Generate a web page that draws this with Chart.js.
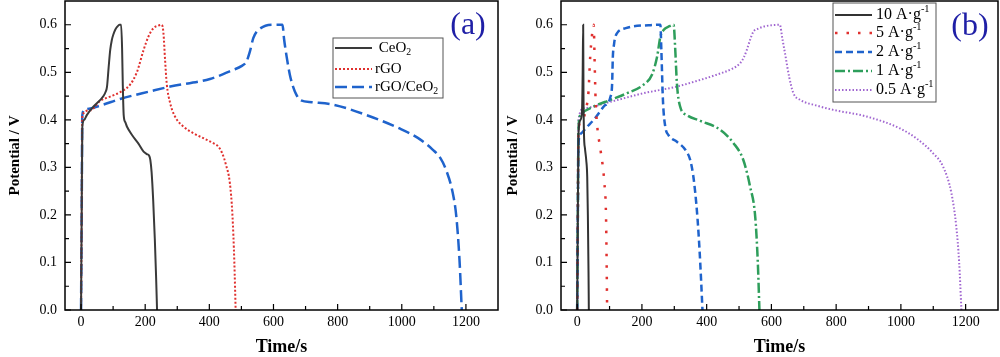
<!DOCTYPE html>
<html><head><meta charset="utf-8">
<script src="https://cdn.jsdelivr.net/npm/chart.js@4.4.0/dist/chart.umd.min.js"></script>
<style>
html,body{margin:0;padding:0;background:#fff;}
#wrap{position:relative;width:1000px;height:357px;overflow:hidden;}
.pane{position:absolute;top:0;width:500px;height:357px;}
canvas{display:block;}
</style></head><body>
<div id="wrap">
<div class="pane" style="left:0"><canvas id="ca" width="500" height="357"></canvas></div>
<div class="pane" style="left:500px"><canvas id="cb" width="500" height="357"></canvas></div>
</div>
<script>
// ---------- tick labels ----------
const xTicks = [0, 200, 400, 600, 800, 1000, 1200];
const xMinorTicks = [100, 300, 500, 700, 900, 1100];
const yTicks = [0.0, 0.1, 0.2, 0.3, 0.4, 0.5, 0.6];
const yMinorTicks = [0.05, 0.15, 0.25, 0.35, 0.45, 0.55];

// ---------- panel (a) ----------
const ceo2T = [0, 2, 4, 10, 18, 39, 60, 70, 76, 81, 86, 91, 96, 101, 107, 113, 120, 125, 128, 130, 133, 138, 143, 159, 179, 195, 205, 212, 216, 220, 225, 230, 234, 237];
const ceo2V = [0, 0.2, 0.385, 0.40, 0.41, 0.428, 0.442, 0.45, 0.458, 0.47, 0.51, 0.547, 0.568, 0.58, 0.59, 0.596, 0.6, 0.6, 0.55, 0.48, 0.41, 0.395, 0.386, 0.368, 0.35, 0.333, 0.328, 0.325, 0.316, 0.29, 0.23, 0.15, 0.07, 0];

const rgoT = [0, 2, 4, 29, 60, 91, 127, 153, 174, 195, 210, 226, 240, 252, 257, 262, 267, 278, 293, 319, 350, 392, 415, 428, 440, 452, 464, 472, 478, 482];
const rgoV = [0, 0.2, 0.41, 0.42, 0.44, 0.449, 0.46, 0.474, 0.5, 0.547, 0.575, 0.593, 0.598, 0.6, 0.582, 0.526, 0.477, 0.435, 0.407, 0.386, 0.372, 0.358, 0.35, 0.344, 0.33, 0.305, 0.267, 0.2, 0.1, 0];

const compT = [0, 2, 4, 12, 60, 122, 216, 278, 402, 474, 500, 516, 527, 537, 548, 558, 575, 600, 628, 633, 641, 651, 661, 672, 682, 720, 786, 890, 993, 1050, 1097, 1120, 1138, 1159, 1170, 1180, 1187];
const compV = [0, 0.2, 0.41, 0.422, 0.43, 0.444, 0.46, 0.47, 0.486, 0.505, 0.513, 0.523, 0.545, 0.572, 0.586, 0.592, 0.598, 0.6, 0.6, 0.57, 0.533, 0.495, 0.47, 0.452, 0.442, 0.437, 0.432, 0.41, 0.382, 0.362, 0.337, 0.32, 0.295, 0.246, 0.197, 0.105, 0];

// ---------- panel (b) ----------
const a10T = [0, 2, 4, 10, 15, 17, 18.5, 19.5, 21, 24, 28, 31, 33, 35, 36];
const a10V = [0, 0.2, 0.37, 0.40, 0.42, 0.5, 0.6, 0.45, 0.37, 0.34, 0.315, 0.28, 0.2, 0.08, 0];

const a5T = [0, 2, 4, 15, 28, 35, 40, 46, 51, 54, 57, 62, 72, 84, 89, 91, 92.5];
const a5V = [0, 0.2, 0.38, 0.40, 0.425, 0.46, 0.53, 0.58, 0.6, 0.52, 0.44, 0.386, 0.337, 0.267, 0.2, 0.1, 0];

const a2T = [0, 2, 4, 10, 30, 51, 82, 103, 108, 110, 114, 118, 125, 133, 150, 175, 220, 257, 260, 265, 272, 282, 308, 334, 349, 358, 365, 372, 378, 383, 387];
const a2V = [0, 0.2, 0.35, 0.37, 0.385, 0.4, 0.428, 0.449, 0.477, 0.53, 0.56, 0.575, 0.584, 0.589, 0.593, 0.597, 0.599, 0.6, 0.547, 0.44, 0.386, 0.368, 0.354, 0.337, 0.316, 0.285, 0.245, 0.19, 0.126, 0.06, 0];

const a1T = [0, 2, 4, 10, 51, 103, 154, 205, 231, 247, 257, 267, 285, 298, 303, 308, 318, 339, 380, 442, 483, 513, 534, 550, 558, 563];
const a1V = [0, 0.2, 0.38, 0.41, 0.428, 0.442, 0.456, 0.474, 0.495, 0.533, 0.575, 0.589, 0.597, 0.6, 0.547, 0.477, 0.428, 0.41, 0.398, 0.379, 0.351, 0.316, 0.26, 0.196, 0.1, 0];

const a05T = [0, 2, 4, 20, 103, 205, 308, 380, 431, 480, 503, 515, 524, 534, 544, 560, 575, 600, 626, 634, 642, 655, 668, 689, 740, 791, 894, 997, 1050, 1099, 1130, 1156, 1171, 1180, 1187];
const a05V = [0, 0.2, 0.40, 0.424, 0.438, 0.456, 0.47, 0.484, 0.495, 0.508, 0.519, 0.532, 0.547, 0.568, 0.585, 0.592, 0.596, 0.599, 0.6, 0.57, 0.54, 0.49, 0.456, 0.442, 0.43, 0.421, 0.407, 0.382, 0.36, 0.33, 0.302, 0.246, 0.176, 0.1, 0];

// ---------- helpers ----------
const FONT = '"Liberation Serif","Times New Roman",serif';
const zip = (t, v) => t.map((x, i) => ({x: x, y: v[i]}));

function ds(label, t, v, color, width, dash, legendParts) {
  return {
    label: label, data: zip(t, v), borderColor: color, backgroundColor: color,
    borderWidth: width, borderDash: dash, pointRadius: 0, fill: false,
    cubicInterpolationMode: 'monotone', borderCapStyle: 'butt',
    legendParts: legendParts
  };
}

function drawRich(ctx, x, y, parts, size) {
  let cx = x;
  ctx.textBaseline = 'middle';
  ctx.textAlign = 'left';
  for (const p of parts) {
    let s = size, dy = 0;
    if (p.sub) { s = size * 0.65; dy = size * 0.3; }
    if (p.sup) { s = size * 0.65; dy = -size * 0.33; }
    ctx.font = s + 'px ' + FONT;
    ctx.fillText(p.t, cx, y + dy);
    cx += ctx.measureText(p.t).width;
  }
}

function decorPlugin(opt) {
  return {
    id: 'decor',
    afterDraw(chart) {
      const ctx = chart.ctx, a = chart.chartArea, x = chart.scales.x, y = chart.scales.y;
      ctx.save();
      ctx.strokeStyle = '#000';
      ctx.lineWidth = 1.2;
      ctx.setLineDash([]);
      ctx.beginPath();
      xTicks.forEach(v => { const p = x.getPixelForValue(v); ctx.moveTo(p, a.bottom); ctx.lineTo(p, a.bottom - 6); });
      xMinorTicks.forEach(v => { const p = x.getPixelForValue(v); ctx.moveTo(p, a.bottom); ctx.lineTo(p, a.bottom - 4); });
      yTicks.forEach(v => { const p = y.getPixelForValue(v); ctx.moveTo(a.left, p); ctx.lineTo(a.left + 6, p); });
      yMinorTicks.forEach(v => { const p = y.getPixelForValue(v); ctx.moveTo(a.left, p); ctx.lineTo(a.left + 4, p); });
      ctx.stroke();
      ctx.lineWidth = 1.5;
      ctx.strokeRect(a.left, a.top, a.right - a.left, a.bottom - a.top);
      const L = opt.legend;
      ctx.lineWidth = 1;
      ctx.strokeStyle = '#555';
      ctx.strokeRect(L.x0, L.y0, L.x1 - L.x0, L.y1 - L.y0);
      chart.data.datasets.forEach((d, i) => {
        const ry = L.rows[i];
        ctx.strokeStyle = d.borderColor;
        ctx.lineWidth = d.borderWidth;
        ctx.setLineDash(d.borderDash || []);
        ctx.beginPath();
        ctx.moveTo(L.lx0, ry); ctx.lineTo(L.lx1, ry);
        ctx.stroke();
        ctx.setLineDash([]);
        ctx.fillStyle = '#000';
        drawRich(ctx, L.tx, ry, d.legendParts, L.size);
      });
      ctx.fillStyle = '#1f1fa6';
      ctx.font = '32px ' + FONT;
      ctx.textAlign = 'center';
      ctx.textBaseline = 'middle';
      ctx.fillText(opt.panel, opt.px, opt.py);
      ctx.restore();
    }
  };
}

function makeScales(yWidth, yTitlePad) {
  return {
    x: {
      type: 'linear', min: -50, max: 1300,
      grid: {display: false, tickLength: 0}, border: {display: false},
      afterBuildTicks(s) { s.ticks = xTicks.map(v => ({value: v})); },
      ticks: {font: {family: FONT, size: 14}, color: '#000', padding: 4, maxRotation: 0, autoSkip: false,
              callback: v => String(v)},
      title: {display: true, text: 'Time/s', color: '#000',
              font: {family: FONT, size: 18, weight: 'bold', lineHeight: 1}, padding: {top: 0, bottom: 1}},
      afterFit(s) { s.height = 47; s.paddingLeft = 0; s.paddingRight = 0; }
    },
    y: {
      type: 'linear', min: 0, max: 0.65,
      grid: {display: false, tickLength: 0}, border: {display: false},
      afterBuildTicks(s) { s.ticks = yTicks.map(v => ({value: v})); },
      ticks: {font: {family: FONT, size: 14}, color: '#000', padding: 8, autoSkip: false,
              callback: v => Number(v).toFixed(1)},
      title: {display: true, text: 'Potential / V', color: '#000',
              font: {family: FONT, size: 15, weight: 'bold', lineHeight: 1}, padding: {top: yTitlePad, bottom: 0}},
      afterFit(s) { s.width = yWidth; s.paddingTop = 0; s.paddingBottom = 0; }
    }
  };
}

const common = {
  responsive: false, animation: false, devicePixelRatio: 1,
  plugins: {legend: {display: false}, tooltip: {enabled: false}},
  elements: {line: {tension: 0.4}}
};

new Chart(document.getElementById('ca'), {
  type: 'line',
  data: {datasets: [
    ds('CeO2', ceo2T, ceo2V, '#3a3a3a', 2, [], [{t: ' CeO'}, {t: '2', sub: 1}]),
    ds('rGO', rgoT, rgoV, '#e0302e', 2, [2, 2], [{t: 'rGO'}]),
    ds('rGO/CeO2', compT, compV, '#1f63cc', 2.5, [12, 5], [{t: 'rGO/CeO'}, {t: '2', sub: 1}])
  ]},
  options: Object.assign({}, common, {
    layout: {padding: {top: 1, right: 2, left: 0, bottom: 0}},
    scales: makeScales(65, 7.5)
  }),
  plugins: [decorPlugin({
    legend: {x0: 333, y0: 38, x1: 443, y1: 98, rows: [48, 69, 87], lx0: 335, lx1: 372, tx: 375, size: 15},
    panel: '(a)', px: 468, py: 26
  })]
});

new Chart(document.getElementById('cb'), {
  type: 'line',
  data: {datasets: [
    ds('10 A·g-1', a10T, a10V, '#333333', 2, [], [{t: '10 A·g'}, {t: '-1', sup: 1}]),
    ds('5 A·g-1', a5T, a5V, '#e0302e', 2.5, [2.5, 9], [{t: '5 A·g'}, {t: '-1', sup: 1}]),
    ds('2 A·g-1', a2T, a2V, '#1f63cc', 2.5, [7, 4], [{t: '2 A·g'}, {t: '-1', sup: 1}]),
    ds('1 A·g-1', a1T, a1V, '#2e9e5b', 2.5, [10, 3, 2, 3], [{t: '1 A·g'}, {t: '-1', sup: 1}]),
    ds('0.5 A·g-1', a05T, a05V, '#a066d0', 2, [1.5, 2], [{t: '0.5 A·g'}, {t: '-1', sup: 1}])
  ]},
  options: Object.assign({}, common, {
    layout: {padding: {top: 1, right: 2, left: 0, bottom: 0}},
    scales: makeScales(61, 5.5)
  }),
  plugins: [decorPlugin({
    legend: {x0: 333, y0: 3, x1: 436, y1: 102, rows: [15, 33, 52, 71, 90], lx0: 335, lx1: 372, tx: 376, size: 16},
    panel: '(b)', px: 470, py: 27
  })]
});
</script>
</body></html>
